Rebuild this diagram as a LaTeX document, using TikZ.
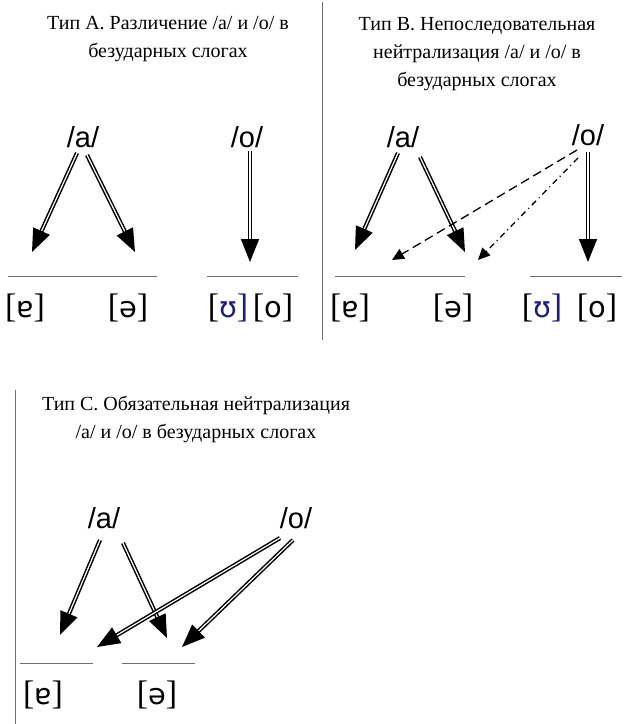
\documentclass[tikz,border=0pt]{standalone}
\usepackage{fontspec}
\setmainfont{Liberation Serif}
\newfontfamily\ipafont[Scale=0.85]{DejaVu Sans}
\newfontfamily\phonfont{Liberation Sans}
\usetikzlibrary{arrows.meta}
\definecolor{rulegray}{RGB}{110,110,110}
\definecolor{ipablue}{RGB}{30,30,130}
\begin{document}
\begin{tikzpicture}[x=1pt,y=-1pt,
  title/.style={align=center,font=\fontsize{20}{28}\selectfont,inner sep=0pt},
  phon/.style={font=\phonfont\fontsize{29}{29}\selectfont,inner sep=0pt},
  lab/.style={font=\fontsize{34}{34}\selectfont,inner sep=0pt},
  dbl/.style={double,double distance=1.2pt,line width=1.5pt,-{Triangle[length=23pt,width=18pt]}},
  thin/.style={line width=1.3pt,-{Triangle[length=12pt,width=11pt]}},
  rule/.style={rulegray,line width=0.9pt},
  divider/.style={rulegray,line width=1pt}]
\useasboundingbox (0,0) rectangle (629,724);

% dividers
\coordinate (d1t) at (322,2);
\coordinate (d1b) at (322,340);
\coordinate (d2t) at (15,390);
\coordinate (d2b) at (15,724);
\draw[divider] (d1t) -- (d1b);
\draw[divider] (d2t) -- (d2b);

% ---------- Panel A ----------
\node[title] (tA) at (168,39) {Тип А. Различение /а/ и /о/ в\\безударных слогах};
\node[phon] (aA) at (83,137) {/a/};
\node[phon] (oA) at (247,137) {/o/};
\coordinate (aA1) at (77,153);
\coordinate (aA2) at (87,155);
\coordinate (oA1) at (250,151);
\coordinate (tA1) at (32,252);
\coordinate (tA2) at (135,252);
\coordinate (tA3) at (250,262);
\draw[dbl] (aA1) -- (tA1);
\draw[dbl] (aA2) -- (tA2);
\draw[dbl] (oA1) -- (tA3);
\coordinate (rA1a) at (8,276);   \coordinate (rA1b) at (157,276);
\coordinate (rA2a) at (207,276); \coordinate (rA2b) at (298,276);
\draw[rule] (rA1a) -- (rA1b);
\draw[rule] (rA2a) -- (rA2b);
\node[lab] (lA1) at (25,308) {[{\ipafont ɐ}]};
\node[lab] (lA2) at (128,308) {[{\ipafont ə}]};
\node[lab] (lA3) at (228,308) {[\textcolor{ipablue}{{\ipafont ʊ}]}};
\node[lab] (lA4) at (273,308) {[{\ipafont o}]};

% ---------- Panel B ----------
\node[title] (tB) at (477,54) {Тип В. Непоследовательная\\нейтрализация /а/ и /о/ в\\безударных слогах};
\node[phon] (aB) at (403,137) {/a/};
\node[phon] (oB) at (588,135) {/o/};
\coordinate (aB1) at (398,153);
\coordinate (aB2) at (420,157);
\coordinate (oB1) at (588,152);
\coordinate (oB2) at (577,150);
\coordinate (oB3) at (578,158);
\coordinate (tB1) at (355,250);
\coordinate (tB2) at (465,252);
\coordinate (tB3) at (588,262);
\coordinate (tB4) at (392,260);
\coordinate (tB5) at (478,260);
\draw[dbl] (aB1) -- (tB1);
\draw[dbl] (aB2) -- (tB2);
\draw[dbl] (oB1) -- (tB3);
\draw[thin,dash pattern=on 9pt off 5pt] (oB2) -- (tB4);
\draw[thin,dash pattern=on 6pt off 4pt on 1pt off 4pt] (oB3) -- (tB5);
\coordinate (rB1a) at (335,276); \coordinate (rB1b) at (465,276);
\coordinate (rB2a) at (530,276); \coordinate (rB2b) at (622,276);
\draw[rule] (rB1a) -- (rB1b);
\draw[rule] (rB2a) -- (rB2b);
\node[lab] (lB1) at (350,308) {[{\ipafont ɐ}]};
\node[lab] (lB2) at (453,308) {[{\ipafont ə}]};
\node[lab] (lB3) at (542,308) {[\textcolor{ipablue}{{\ipafont ʊ}]}};
\node[lab] (lB4) at (597,308) {[{\ipafont o}]};

% ---------- Panel C ----------
\node[title] (tC) at (196,419) {Тип С. Обязательная нейтрализация\\/а/ и /о/ в безударных слогах};
\node[phon] (aC) at (104,518) {/a/};
\node[phon] (oC) at (296,518) {/o/};
\coordinate (aC1) at (100,540);
\coordinate (aC2) at (123,543);
\coordinate (oC1) at (280,538);
\coordinate (oC2) at (293,540);
\coordinate (tC1) at (60,635);
\coordinate (tC2) at (167,638);
\coordinate (tC3) at (97,647);
\coordinate (tC4) at (182,647);
\draw[dbl] (aC1) -- (tC1);
\draw[dbl] (aC2) -- (tC2);
\draw[dbl] (oC1) -- (tC3);
\draw[dbl] (oC2) -- (tC4);
\coordinate (rC1a) at (20,663);  \coordinate (rC1b) at (93,663);
\coordinate (rC2a) at (122,663); \coordinate (rC2b) at (195,663);
\draw[rule] (rC1a) -- (rC1b);
\draw[rule] (rC2a) -- (rC2b);
\node[lab] (lC1) at (43,695) {[{\ipafont ɐ}]};
\node[lab] (lC2) at (157,695) {[{\ipafont ə}]};
\end{tikzpicture}
\end{document}
